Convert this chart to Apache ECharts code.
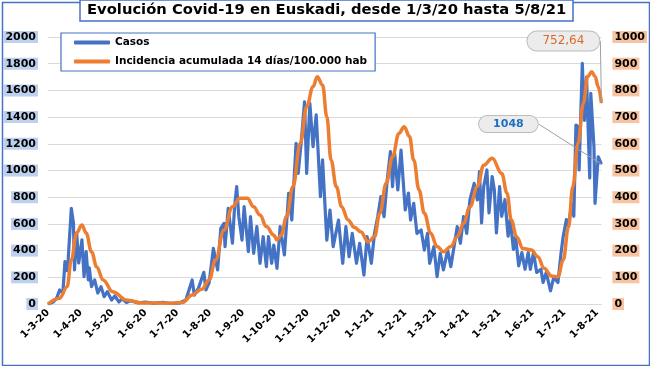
<!DOCTYPE html>
<html><head><meta charset="utf-8">
<script src="https://cdn.jsdelivr.net/npm/echarts@6/dist/echarts.min.js"></script>
<style>html,body{margin:0;padding:0;background:#fff}#c{width:650px;height:366px}</style>
</head><body><div id="c"></div>
<script>
const casosFechas = ['2020-03-01','2020-03-06','2020-03-09','2020-03-12','2020-03-15','2020-03-17','2020-03-19','2020-03-20','2020-03-23','2020-03-25','2020-03-26','2020-03-28','2020-03-30','2020-04-02','2020-04-04','2020-04-06','2020-04-08','2020-04-09','2020-04-11','2020-04-14','2020-04-17','2020-04-20','2020-04-23','2020-04-26','2020-04-30','2020-05-03','2020-05-07','2020-05-10','2020-05-14','2020-05-18','2020-05-25','2020-06-01','2020-06-09','2020-06-17','2020-06-24','2020-07-03','2020-07-09','2020-07-15','2020-07-17','2020-07-21','2020-07-26','2020-07-28','2020-07-31','2020-08-04','2020-08-08','2020-08-11','2020-08-14','2020-08-15','2020-08-18','2020-08-22','2020-08-24','2020-08-26','2020-08-28','2020-08-31','2020-09-02','2020-09-06','2020-09-08','2020-09-11','2020-09-14','2020-09-17','2020-09-20','2020-09-23','2020-09-25','2020-09-28','2020-09-30','2020-10-03','2020-10-06','2020-10-10','2020-10-14','2020-10-17','2020-10-21','2020-10-23','2020-10-26','2020-10-29','2020-10-31','2020-11-03','2020-11-06','2020-11-09','2020-11-13','2020-11-15','2020-11-19','2020-11-22','2020-11-25','2020-11-30','2020-12-04','2020-12-07','2020-12-10','2020-12-13','2020-12-17','2020-12-20','2020-12-24','2020-12-27','2020-12-31','2021-01-03','2021-01-06','2021-01-09','2021-01-12','2021-01-15','2021-01-18','2021-01-20','2021-01-22','2021-01-25','2021-01-28','2021-01-29','2021-02-01','2021-02-04','2021-02-06','2021-02-09','2021-02-12','2021-02-16','2021-02-19','2021-02-22','2021-02-24','2021-02-28','2021-03-03','2021-03-06','2021-03-09','2021-03-13','2021-03-16','2021-03-19','2021-03-22','2021-03-25','2021-03-28','2021-03-31','2021-04-03','2021-04-07','2021-04-10','2021-04-12','2021-04-14','2021-04-16','2021-04-19','2021-04-21','2021-04-24','2021-04-26','2021-04-28','2021-05-01','2021-05-03','2021-05-06','2021-05-09','2021-05-11','2021-05-14','2021-05-16','2021-05-19','2021-05-22','2021-05-25','2021-05-28','2021-05-30','2021-06-02','2021-06-05','2021-06-09','2021-06-11','2021-06-14','2021-06-18','2021-06-21','2021-06-25','2021-06-28','2021-06-30','2021-07-03','2021-07-05','2021-07-08','2021-07-10','2021-07-12','2021-07-14','2021-07-15','2021-07-18','2021-07-20','2021-07-22','2021-07-25','2021-07-26','2021-07-29','2021-07-30','2021-08-02','2021-08-05'];
const casosValores = [0,15,40,105,80,317,250,330,717,606,255,532,307,480,205,392,180,270,130,180,82,130,55,92,30,60,15,40,10,25,8,15,5,12,5,7,30,180,67,120,237,105,160,417,255,567,604,429,717,455,729,879,654,479,729,392,654,380,579,305,504,280,504,305,442,267,579,367,829,629,1204,979,1228,1515,979,1503,1178,1416,804,1079,479,704,429,629,305,579,354,529,305,455,217,504,305,529,654,804,654,929,1141,879,1129,854,1153,1041,704,831,629,754,529,554,404,529,305,429,205,380,255,404,280,429,579,455,654,529,779,904,779,992,608,880,1004,682,955,856,533,880,657,781,508,632,409,508,285,385,260,385,260,385,236,260,161,236,99,198,161,385,508,632,583,756,657,1340,1327,1004,1803,1376,1699,944,1578,1178,754,1103,1048];
const incFechas = ['2020-03-01','2020-03-12','2020-03-19','2020-03-23','2020-03-28','2020-04-02','2020-04-06','2020-04-11','2020-04-16','2020-04-22','2020-05-01','2020-05-14','2020-05-29','2020-06-26','2020-07-06','2020-07-15','2020-07-24','2020-07-31','2020-08-06','2020-08-14','2020-08-22','2020-08-29','2020-09-05','2020-09-11','2020-09-17','2020-09-23','2020-09-30','2020-10-03','2020-10-07','2020-10-12','2020-10-18','2020-10-25','2020-10-31','2020-11-06','2020-11-10','2020-11-15','2020-11-19','2020-11-23','2020-11-28','2020-12-03','2020-12-09','2020-12-15','2020-12-21','2020-12-28','2021-01-03','2021-01-08','2021-01-14','2021-01-20','2021-01-26','2021-01-31','2021-02-05','2021-02-09','2021-02-14','2021-02-19','2021-02-25','2021-03-03','2021-03-09','2021-03-16','2021-03-22','2021-03-28','2021-04-03','2021-04-10','2021-04-16','2021-04-24','2021-05-03','2021-05-08','2021-05-12','2021-05-17','2021-05-23','2021-05-31','2021-06-06','2021-06-12','2021-06-19','2021-06-25','2021-06-30','2021-07-05','2021-07-09','2021-07-14','2021-07-19','2021-07-23','2021-07-27','2021-07-30','2021-08-02','2021-08-05'];
const incValores = [0,22,65,165,266,296,266,196,139,90,46,15,4,3,6,34,55,90,165,277,364,396,396,364,333,290,258,240,258,327,439,602,739,814,851,820,701,539,439,364,315,287,271,233,252,340,452,552,639,664,627,539,427,340,265,215,196,215,252,302,364,440,520,546,489,415,315,252,208,202,177,134,105,102,165,289,439,602,752,852,870,852,814,752.64];
const nombresSeries = ['Casos', 'Incidencia acumulada 14 días/100.000 hab'];
const coloresSeries = ['#4472c4', '#ed7d31'];
const titulo = 'Evolución Covid-19 en Euskadi, desde 1/3/20 hasta 5/8/21';
const etiquetaCasos = '1048';
const etiquetaIncidencia = '752,64';

// daily categories
const categorias = [];
{
  let t = Date.UTC(2020, 2, 1);
  const fin = Date.UTC(2021, 7, 5);
  while (t <= fin) { categorias.push(new Date(t).toISOString().slice(0, 10)); t += 86400000; }
}
function fmt(v) { const p = v.split('-'); return (+p[2]) + '-' + (+p[1]) + '-' + p[0].slice(2); }

const bubble = {
  show: true, backgroundColor: '#ececec', borderColor: '#bcbcbc', borderWidth: 1,
  borderRadius: 11, position: 'inside', opacity: 1
};
const guia = { show: true, lineStyle: { color: '#a0a0a0', width: 1 } };
const casosData = casosFechas.map((f, i) => [f, casosValores[i]]);
casosData[casosData.length - 1] = {
  value: casosData[casosData.length - 1],
  label: Object.assign({ formatter: etiquetaCasos, color: '#1f6fc5', fontWeight: 'bold', fontSize: 11, padding: [3, 14, 2, 14] }, bubble),
  labelLine: guia
};
const incData = incFechas.map((f, i) => [f, incValores[i]]);
incData[incData.length - 1] = {
  value: incData[incData.length - 1],
  label: Object.assign({ formatter: etiquetaIncidencia, color: '#d9692a', fontSize: 12, padding: [4, 15, 3, 15] }, bubble),
  labelLine: guia
};

const FONT = 'DejaVu Sans';
const chart = echarts.init(document.getElementById('c'));
chart.setOption({
  animation: false,
  textStyle: { fontFamily: FONT },
  title: {
    text: titulo, left: 80, top: 0, padding: [3, 7, 3, 7],
    borderColor: '#4472c4', borderWidth: 1.5, backgroundColor: '#fff',
    textStyle: { fontSize: 14.75, fontWeight: 'bold', color: '#000', fontFamily: FONT }
  },
  legend: {
    orient: 'vertical', left: 61, top: 33, padding: [4, 8, 4, 13], itemGap: 8,
    backgroundColor: '#fff', borderColor: '#4472c4', borderWidth: 1.2,
    icon: 'roundRect', itemWidth: 36, itemHeight: 4,
    textStyle: { fontSize: 10.5, fontWeight: 'bold', color: '#000', fontFamily: FONT },
    data: nombresSeries.map((n, i) => ({ name: n, itemStyle: { color: coloresSeries[i], opacity: 1 } }))
  },
  grid: { left: 48, right: 46, top: 37, bottom: 62 },
  xAxis: {
    type: 'category', data: categorias, boundaryGap: false,
    axisLine: { lineStyle: { color: '#d9d9d9', width: 1 } },
    axisTick: { show: false },
    axisLabel: {
      interval: (i, v) => v.slice(8) === '01', rotate: 45, margin: 7,
      formatter: fmt, fontSize: 10, fontWeight: 'bold', color: '#000', fontFamily: FONT
    }
  },
  yAxis: [{
    type: 'value', min: 0, max: 2000, interval: 200,
    axisLine: { show: false }, axisTick: { show: false },
    splitLine: { lineStyle: { color: '#d9d9d9' } },
    axisLabel: { formatter: v => String(v), fontSize: 11, fontWeight: 'bold', color: '#000', backgroundColor: '#bdd0ee', padding: [1, 2, 0, 2], margin: 10, fontFamily: FONT }
  }, {
    type: 'value', min: 0, max: 1000, interval: 100,
    axisLine: { show: false }, axisTick: { show: false }, splitLine: { show: false },
    axisLabel: { formatter: v => String(v), fontSize: 11, fontWeight: 'bold', color: '#000', backgroundColor: '#f8c3a0', padding: [1, 2, 0, 2], margin: 11, fontFamily: FONT }
  }],
  series: [{
    name: nombresSeries[0], type: 'line', yAxisIndex: 0, data: casosData,
    symbol: 'circle', symbolSize: 1, showAllSymbol: true, showSymbol: true,
    itemStyle: { color: coloresSeries[0] },
    lineStyle: { color: coloresSeries[0], width: 3.2, join: 'round' },
    labelLayout: { dx: -93, dy: -40 },
    z: 2
  }, {
    name: nombresSeries[1], type: 'line', yAxisIndex: 1, data: incData,
    smooth: 0.4, smoothMonotone: 'x',
    symbol: 'circle', symbolSize: 1, showAllSymbol: true, showSymbol: true,
    itemStyle: { color: coloresSeries[1] },
    lineStyle: { color: coloresSeries[1], width: 3.5 },
    labelLayout: { dx: -38, dy: -62 },
    z: 3
  }],
  graphic: [{
    type: 'rect', left: 0, top: 0, z: -1, silent: true,
    shape: { x: 0, y: 0, width: 647, height: 363 },
    style: { fill: 'none', stroke: '#4472c4', lineWidth: 1.5 },
    position: [1.5, 1.5]
  }]
});
</script></body></html>
